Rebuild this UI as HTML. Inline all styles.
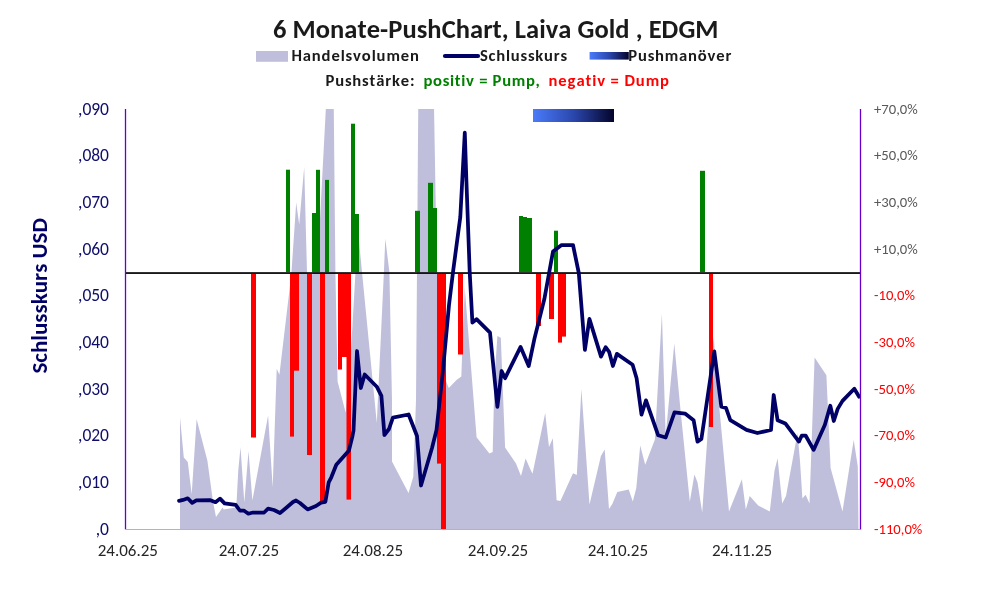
<!DOCTYPE html>
<html><head><meta charset="utf-8"><title>6 Monate-PushChart, Laiva Gold , EDGM</title>
<style>
html,body{margin:0;padding:0;background:#fff;}
body{width:992px;height:593px;overflow:hidden;}
svg{display:block;}
text{font-family:Carlito,"Liberation Sans",sans-serif;font-variant-ligatures:none;font-kerning:none;}
.t{font-size:26.5px;font-weight:bold;fill:#1a1a1a;}
.lg{font-size:16.6px;font-weight:bold;fill:#1a1a1a;}
.yl{font-size:17.5px;fill:#0e0e6a;}
.yrp{font-size:14.67px;fill:#595959;}
.yrn{font-size:14.67px;fill:#ff0000;}
.xl{font-size:17px;fill:#262626;}
.yt{font-size:23px;font-weight:bold;fill:#000066;}
</style></head><body>
<svg width="992" height="593" viewBox="0 0 992 593">
<defs>
<clipPath id="plot"><rect x="125" y="109" width="735" height="420"/></clipPath>
<linearGradient id="pg" x1="0" x2="1" y1="0" y2="0"><stop offset="0" stop-color="#4a7bfa"/><stop offset="0.5" stop-color="#2b47ad"/><stop offset="1" stop-color="#04042a"/></linearGradient>
</defs>
<rect width="992" height="593" fill="#fff"/>
<text x="273.00" y="37.8" class="t" textLength="445.50" lengthAdjust="spacing">6 Monate-PushChart, Laiva Gold , EDGM</text>
<text x="291.40" y="60.7" class="lg" textLength="127.50" lengthAdjust="spacing">Handelsvolumen</text>
<text x="480.00" y="60.7" class="lg" textLength="87.00" lengthAdjust="spacing">Schlusskurs</text>
<text x="628.30" y="60.7" class="lg" textLength="103.00" lengthAdjust="spacing">Pushmanöver</text>
<text x="325.50" y="85.7" class="lg" textLength="89.00" lengthAdjust="spacing">Pushstärke:</text>
<text x="423.40" y="85.7" class="lg" textLength="116.50" lengthAdjust="spacing" style="fill:#008000">positiv = Pump,</text>
<text x="548.50" y="85.7" class="lg" textLength="120.50" lengthAdjust="spacing" style="fill:#ff0000">negativ = Dump</text>
<rect x="256" y="51" width="32" height="10.8" fill="#bfbfdc"/>
<line x1="445" y1="56" x2="478" y2="56" stroke="#000066" stroke-width="4.2" stroke-linecap="round"/>
<rect x="589.6" y="52" width="39.2" height="7.6" fill="url(#pg)"/>

<rect x="533" y="109" width="81" height="13" fill="url(#pg)"/>
<polygon points="180,529 180,417.5 183.8,457.4 187.8,462 191.7,494.3 196.6,418.9 207.4,460.7 213,501.4 216,517 222.6,507.5 223.6,509.5 235.7,507.5 236.7,500 238.3,470 240.5,447.2 244.3,502.4 248.5,451.3 252.4,500.4 268.1,415.5 272.7,487.2 276.7,368.8 279.4,374.7 290,285.5 291.5,272 296.2,202.4 299.2,224.5 304.2,167 307,272 310,282 313,272 319,238 326.3,100 333.7,100 335.4,272 337.6,381.6 345.7,412.7 351,350 355.5,272 357.5,225 359,241 362,272 376.8,423 383.9,272 385.3,238.7 389.4,272 392,400 392,461.4 408.5,493 413.3,476.7 416,400 418.3,100 433.9,100 436.9,272 445.6,380 448.8,388 456.5,380 461.3,376.6 464.7,287.2 476.6,437.2 489.4,453.4 492.7,452 494.4,380 497.4,336 500.8,337.8 505.1,447.4 516,463.5 521,476 525.6,458.5 530,468.6 532.5,473.7 545.2,412.9 549,447 552.8,438.2 556.6,500.3 560.4,501 573,473.2 576.8,475 581.4,388.9 589.5,504.6 600.9,456 604.7,449.6 609,509 612.3,504 617.3,492 628.7,489.4 632.8,501.6 636.3,488 640.2,445.4 645.2,464.8 654.9,439.6 661.9,313.6 665.7,435.8 674.3,343.5 680,404.7 689.8,501.7 694.4,474.6 697.5,482.3 702.2,512.5 707.2,439.6 713.6,337 719.4,408.6 729,511.4 741.9,479.2 745.8,509.5 749.7,495.9 758.2,505.6 769.8,511.4 774.5,470.7 777.6,458.3 782.2,503.6 786,496 797.5,433 800,461 802.4,498.5 805.6,494.7 809.5,503.4 814.6,357.6 826.4,375.2 830.6,468.1 842.5,511.4 853.7,440 857.8,466.5 858.5,529" fill="#bfbfdc" clip-path="url(#plot)"/>
<rect x="286" y="169.7" width="4" height="102.3" fill="#008000"/>
<rect x="312" y="213" width="4" height="59" fill="#008000"/>
<rect x="316" y="169.8" width="4" height="102.2" fill="#008000"/>
<rect x="325" y="179.9" width="4" height="92.1" fill="#008000"/>
<rect x="351" y="123.7" width="4" height="148.3" fill="#008000"/>
<rect x="355" y="214" width="4" height="58" fill="#008000"/>
<rect x="415" y="210.8" width="5" height="61.2" fill="#008000"/>
<rect x="428" y="182.8" width="5" height="89.2" fill="#008000"/>
<rect x="433" y="208" width="4" height="64" fill="#008000"/>
<rect x="519" y="216" width="4" height="56" fill="#008000"/>
<rect x="523" y="217" width="4" height="55" fill="#008000"/>
<rect x="527" y="218" width="5" height="54" fill="#008000"/>
<rect x="554" y="230.7" width="4" height="41.3" fill="#008000"/>
<rect x="700" y="170.8" width="5" height="101.2" fill="#008000"/>
<rect x="251" y="273.9" width="5" height="163.6" fill="#ff0000"/>
<rect x="290" y="273.9" width="4" height="162.7" fill="#ff0000"/>
<rect x="294" y="273.9" width="5" height="96.8" fill="#ff0000"/>
<rect x="307" y="273.9" width="5" height="181.1" fill="#ff0000"/>
<rect x="320" y="273.9" width="5" height="227.1" fill="#ff0000"/>
<rect x="338" y="273.9" width="4" height="95.6" fill="#ff0000"/>
<rect x="342" y="273.9" width="5" height="83.1" fill="#ff0000"/>
<rect x="346.5" y="273.9" width="4.5" height="225.7" fill="#ff0000"/>
<rect x="437" y="273.9" width="4" height="189.7" fill="#ff0000"/>
<rect x="441" y="273.9" width="5" height="255.1" fill="#ff0000"/>
<rect x="458" y="273.9" width="5" height="80.6" fill="#ff0000"/>
<rect x="536" y="273.9" width="5" height="52.1" fill="#ff0000"/>
<rect x="549" y="273.9" width="5" height="45.1" fill="#ff0000"/>
<rect x="558" y="273.9" width="4" height="68.7" fill="#ff0000"/>
<rect x="562" y="273.9" width="4" height="62.7" fill="#ff0000"/>
<rect x="709" y="273.9" width="4" height="153.1" fill="#ff0000"/>
<rect x="125" y="272.2" width="735" height="1.7" fill="#000"/>
<polyline points="179,500.9 183.1,499.9 187.7,498.3 192.2,502.9 196.3,500.4 210.4,500.2 215.5,502.2 220,498.6 224.6,503.4 235.7,504.9 239.8,510.5 243.8,510.5 248.4,513.7 252.9,512.5 264.1,512.5 268.1,508.7 274,510 280,513 286,508 293,502 296,500.5 300,503 307.6,509.4 316,506 321.1,502.6 325.4,501.8 328.7,482.4 331.3,477.3 336.3,464.7 349,450.4 352.3,436.9 353.5,430.6 357,351 360.8,388 364.7,374.5 376.8,386.7 381.4,395.8 384.4,435 389,429 392.9,417.6 408.6,414.5 417,436 421,485.5 432,448 436.5,430 442.7,373 449,305 453,272 460.3,217 464.8,132.7 466.4,180.6 469.7,272 472.4,322.6 476.5,319.2 490,332.7 497.4,406.9 501.6,371 505.1,378.2 520.6,346.9 528.7,366.1 534.4,338.9 544.4,298.8 553,251.5 561.6,245 573,245 578.8,273 584.9,349.9 589.4,318.9 601,356.6 605.6,347.2 609.1,351.8 612.9,366 616.9,353.9 632.6,364.7 636.6,378.2 641.5,414.6 646,400.3 658.2,435.3 665.7,437.5 674.5,412.3 685,413.6 693.6,420.2 697.5,441.6 701.4,438.9 714.3,351.4 721.3,406.7 726,407.8 730.3,420.2 746.5,429.9 757.4,433 771,430 773.7,395 777.6,420.2 785.3,423.4 798.9,441.6 801.8,435.5 805.6,435.5 813.6,449.9 824.8,424.9 830.3,405.7 833.8,421 837.7,408.9 842.5,400.9 854.3,388.7 859.1,396.7" fill="none" stroke="#000066" stroke-width="3.75" stroke-linejoin="round" stroke-linecap="round"/>
<rect x="124.85" y="109" width="1.3" height="420.5" fill="#6500cc"/>
<rect x="859.85" y="109" width="1.3" height="420.5" fill="#6500cc"/>
<rect x="125" y="529" width="735" height="1" fill="#b4b4b4"/>
<text x="109" y="114.5" text-anchor="end" class="yl">,090</text>
<text x="109" y="161.2" text-anchor="end" class="yl">,080</text>
<text x="109" y="207.8" text-anchor="end" class="yl">,070</text>
<text x="109" y="254.5" text-anchor="end" class="yl">,060</text>
<text x="109" y="301.2" text-anchor="end" class="yl">,050</text>
<text x="109" y="347.8" text-anchor="end" class="yl">,040</text>
<text x="109" y="394.5" text-anchor="end" class="yl">,030</text>
<text x="109" y="441.2" text-anchor="end" class="yl">,020</text>
<text x="109" y="487.8" text-anchor="end" class="yl">,010</text>
<text x="109" y="534.5" text-anchor="end" class="yl">,0</text>
<text x="874" y="113.7" class="yrp">+70,0%</text>
<text x="874" y="160.4" class="yrp">+50,0%</text>
<text x="874" y="207.0" class="yrp">+30,0%</text>
<text x="874" y="253.7" class="yrp">+10,0%</text>
<text x="874" y="300.4" class="yrn">-10,0%</text>
<text x="874" y="347.0" class="yrn">-30,0%</text>
<text x="874" y="393.7" class="yrn">-50,0%</text>
<text x="874" y="440.4" class="yrn">-70,0%</text>
<text x="874" y="487.0" class="yrn">-90,0%</text>
<text x="874" y="533.7" class="yrn">-110,0%</text>
<text x="127.8" y="555.8" text-anchor="middle" class="xl">24.06.25</text>
<text x="248.9" y="555.8" text-anchor="middle" class="xl">24.07.25</text>
<text x="372.9" y="555.8" text-anchor="middle" class="xl">24.08.25</text>
<text x="498" y="555.8" text-anchor="middle" class="xl">24.09.25</text>
<text x="617.9" y="555.8" text-anchor="middle" class="xl">24.10.25</text>
<text x="742.1" y="555.8" text-anchor="middle" class="xl">24.11.25</text>

<text transform="translate(47 295.8) rotate(-90)" text-anchor="middle" class="yt">Schlusskurs USD</text>
</svg>
</body></html>
